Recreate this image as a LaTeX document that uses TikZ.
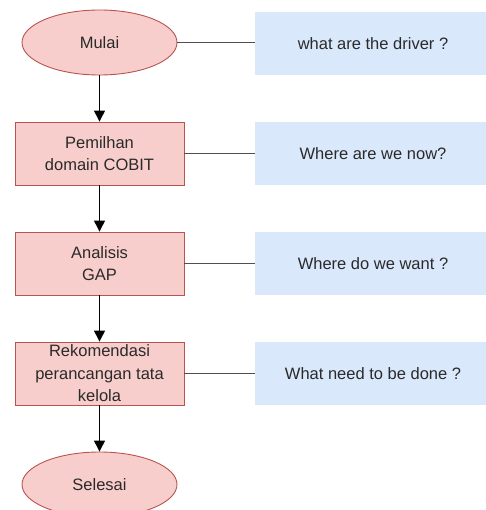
\documentclass[tikz,border=0pt]{standalone}
\usepackage{fontspec}
\setmainfont{Liberation Sans}
\usetikzlibrary{shapes.geometric,arrows.meta}

\definecolor{redfill}{HTML}{F8CECC}
\definecolor{redline}{HTML}{B85450}
\definecolor{bluefill}{HTML}{DAE8FC}
\definecolor{textgray}{HTML}{2A2A2A}
\definecolor{linegray}{HTML}{505050}

\tikzset{
  terminal/.style={ellipse, draw=redline, fill=redfill, line width=0.9pt, minimum width=155pt, minimum height=65pt, inner sep=0pt, text=textgray, font=\fontsize{16.5}{22.5}\selectfont},
  process/.style={rectangle, draw=redline, fill=redfill, line width=0.9pt, minimum width=169pt, minimum height=63pt, inner sep=0pt, align=center, text=textgray, font=\fontsize{16.5}{22.5}\selectfont},
  question/.style={rectangle, fill=bluefill, minimum width=236pt, minimum height=63pt, inner sep=0pt, text=textgray, font=\fontsize{16.5}{22.5}\selectfont},
  flow/.style={-{Triangle[length=11pt,width=11pt]}, line width=1.3pt},
  link/.style={draw=linegray, line width=1.5pt},
}

\begin{document}
\begin{tikzpicture}[x=1pt, y=-1pt]
        \useasboundingbox (0, 0) rectangle (485, 510);

        \node[terminal] (mulai) at (99.5, 42.5) {Mulai};
        \node[process] (pemilihan) at (99.5, 153.5) {Pemilhan \\ domain COBIT};
        \node[process] (analisis) at (99.5, 263.5) {Analisis \\ GAP};
        \node[process] (rekomendasi) at (99.5, 373.5) {Rekomendasi \\ perancangan tata \\ kelola};
        \node[terminal] (selesai) at (99.5, 484.5) {Selesai};

        \node[question] (driver) at (373, 43.5) {what are the driver ?};
        \node[question] (now) at (373, 153.5) {Where are we now?};
        \node[question] (want) at (373, 263.5) {Where do we want ?};
        \node[question] (done) at (373, 373.5) {What need to be done ?};

        \draw[flow] (mulai) -- (pemilihan);
        \draw[flow] (pemilihan) -- (analisis);
        \draw[flow] (analisis) -- (rekomendasi);
        \draw[flow] (rekomendasi) -- (selesai);

        \draw[link] (mulai.east) -- (driver.west |- mulai.east);
        \draw[link] (pemilihan) -- (now);
        \draw[link] (analisis) -- (want);
        \draw[link] (rekomendasi) -- (done);
    \end{tikzpicture}
\end{document}
